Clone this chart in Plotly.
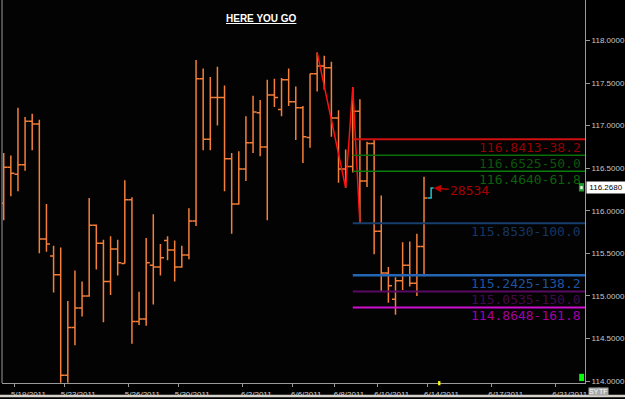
import plotly.graph_objects as go

# ---------------- data ----------------
bar_index = list(range(60))
opens = [116.09, 116.51, 116.43, 116.54, 117.05, 117.02, 115.67, 115.47, 115.25, 114.07,
         114.63, 114.86, 115.00, 115.83, 115.62, 115.17, 115.55, 115.38, 116.13, 114.70,
         114.73, 115.36, 115.34, 115.65, 115.54, 115.34, 115.48, 115.88, 117.55, 116.84,
         117.33, 117.33, 116.61, 116.08, 116.49, 116.80, 117.15, 116.75, 117.36, 117.19,
         117.54, 117.28, 117.21, 116.86, 117.61, 117.70, 117.68, 117.09, 116.49, 116.52,
         117.17, 116.35, 116.79, 115.76, 115.27, 114.96, 115.18, 115.36, 115.15, 115.58]
highs = [116.68, 116.65, 117.21, 117.10, 117.14, 117.07, 116.08, 115.59, 115.57, 114.94,
         115.30, 115.17, 116.15, 115.84, 115.66, 115.70, 115.66, 116.36, 116.16, 115.05,
         115.68, 115.96, 115.61, 115.70, 115.65, 115.59, 116.03, 117.77, 117.67, 117.57,
         117.69, 117.47, 116.68, 116.70, 117.11, 117.35, 117.30, 117.54, 117.55, 117.56,
         117.67, 117.46, 117.23, 117.61, 117.86, 117.82, 117.75, 117.18, 116.72, 117.45,
         117.31, 116.81, 116.83, 116.18, 115.34, 115.22, 115.63, 115.64, 115.73, 116.40]
lows = [115.89, 116.17, 116.23, 116.47, 116.71, 115.50, 115.52, 115.04, 113.98, 113.98,
        114.42, 114.76, 114.99, 115.31, 114.69, 115.01, 115.24, 115.38, 114.44, 114.66,
        114.65, 114.90, 115.24, 115.42, 115.17, 115.33, 115.43, 115.82, 116.71, 116.71,
        117.00, 116.23, 115.73, 116.07, 116.35, 116.68, 116.64, 115.89, 117.22, 117.11,
        117.23, 116.83, 116.56, 116.74, 117.40, 117.42, 116.87, 116.33, 116.27, 116.45,
        115.85, 116.28, 115.49, 115.05, 114.92, 114.78, 115.07, 115.11, 115.00, 115.23]
closes = [116.51, 116.44, 116.54, 117.05, 117.02, 115.67, 115.61, 115.25, 114.07, 114.63,
          114.86, 115.00, 115.83, 115.62, 115.17, 115.55, 115.39, 116.13, 114.70, 114.73,
          115.39, 115.34, 115.45, 115.54, 115.34, 115.48, 115.88, 117.55, 116.84, 117.33,
          117.33, 116.61, 116.08, 116.49, 116.80, 117.16, 116.75, 117.36, 117.33, 117.54,
          117.28, 117.21, 116.87, 117.61, 117.70, 117.68, 117.09, 116.49, 116.52, 117.17,
          116.35, 116.79, 115.76, 115.27, 115.12, 115.18, 115.36, 115.15, 115.58, 116.15]

tick_positions = [1.5, 8.5, 17.5, 24.5, 33.5, 40.5, 46.5, 52.5, 59.5, 68.5, 77.5]
tick_labels = ["5/19/2011", "5/23/2011", "5/26/2011", "5/30/2011", "6/2/2011", "6/6/2011",
               "6/8/2011", "6/10/2011", "6/14/2011", "6/17/2011", "6/21/2011"]
y_ticks = [114.0, 114.5, 115.0, 115.5, 116.0, 116.5, 117.0, 117.5, 118.0]

zigzag_x = [44, 48, 49, 50]
zigzag_y = [117.86, 116.27, 117.45, 115.85]

level_start = 49
level_values = [116.8413, 116.6525, 116.4640, 115.8530, 115.2425, 115.0535, 114.8648]
level_labels = ["116.8413-38.2", "116.6525-50.0", "116.4640-61.8", "115.8530-100.0",
                "115.2425-138.2", "115.0535-150.0", "114.8648-161.8"]
level_line_colors = ["#d01010", "#0a6e0a", "#0a7e0a", "#173f6e", "#2466b4", "#5a0a62", "#d010d0"]
level_text_colors = ["#960000", "#0a560a", "#0a620a", "#153662", "#1c54a0", "#44084c", "#a400a4"]
level_widths = [2, 1.5, 1.5, 2, 2.5, 2, 2]

last_price = 116.268
last_index = 60
arrow_text = "28534"

x_range = [-0.24, 81.6]
y_range = [113.978, 118.475]

# ---------------- figure ----------------
BAR = "#f47f3a"
fig = go.Figure()

fig.add_trace(go.Ohlc(
    x=bar_index, open=opens, high=highs, low=lows, close=closes,
    increasing=dict(line=dict(color=BAR, width=1.5)),
    decreasing=dict(line=dict(color=BAR, width=1.5)),
    tickwidth=0.5, showlegend=False, hoverinfo="skip"))

fig.add_trace(go.Scatter(x=zigzag_x, y=zigzag_y, mode="lines",
                         line=dict(color="#ff1010", width=1.5), showlegend=False,
                         hoverinfo="skip"))

fig.add_trace(go.Scatter(x=[last_index - 0.45, last_index, last_index, last_index + 0.35],
                         y=[closes[-1], closes[-1], last_price, last_price], mode="lines",
                         line=dict(color="#20c0d0", width=1.5), showlegend=False,
                         hoverinfo="skip"))

shapes = []
annotations = []
for v, lab, lc, tc, w in zip(level_values, level_labels, level_line_colors,
                             level_text_colors, level_widths):
    shapes.append(dict(type="line", xref="x", yref="y", x0=level_start, x1=x_range[1],
                       y0=v, y1=v, line=dict(color=lc, width=w)))
    annotations.append(dict(xref="paper", yref="y", x=1, y=v, xanchor="right",
                            yanchor="top", xshift=-2, yshift=1, showarrow=False, text=lab,
                            font=dict(family="DejaVu Sans Mono", size=13, color=tc)))

# title
annotations.append(dict(xref="paper", yref="paper", x=0.445, y=0.97, showarrow=False,
                        text="<b><u>HERE YOU GO</u></b>",
                        font=dict(family="Liberation Sans", size=10, color="#ffffff")))
# arrow + count
annotations.append(dict(xref="x", yref="y", x=last_index + 0.35, y=last_price,
                        ax=36, ay=3, text=arrow_text, showarrow=True, arrowhead=2,
                        arrowsize=1, arrowwidth=1.5, arrowcolor="#c00000",
                        font=dict(family="DejaVu Sans Mono", size=13, color="#a80000")))
# price box
annotations.append(dict(xref="paper", yref="y", x=1, y=last_price, xanchor="left",
                        xshift=1, showarrow=False, text="116.2680", bgcolor="#ffffff",
                        borderpad=1, width=36,
                        font=dict(family="Liberation Sans", size=8, color="#000000")))
# SY / TF buttons
for xp, t in [(1.0250, "SY"), (1.0405, "TF")]:
    annotations.append(dict(xref="paper", yref="paper", x=xp, y=-0.034, yanchor="bottom",
                            showarrow=False, text=t, bgcolor="#a8a8a8", borderpad=0,
                            font=dict(family="Liberation Sans", size=7, color="#ffffff")))

# decorations
shapes += [
    dict(type="line", xref="paper", yref="paper", x0=0, x1=0, y0=0, y1=1,
         line=dict(color="#9a9a9a", width=1)),
    dict(type="rect", xref="paper", yref="paper", x0=0.990, x1=0.9983, y0=0.005, y1=0.024,
         fillcolor="#00ff00", line=dict(width=0)),
    dict(type="rect", xref="paper", yref="paper", x0=0.9895, x1=0.9983, y0=0.500, y1=0.522,
         fillcolor="#1f9a2a", line=dict(width=0)),
    dict(type="rect", xref="paper", yref="paper", x0=0.9920, x1=0.9960, y0=0.506, y1=0.514,
         fillcolor="#ffffff", line=dict(width=0)),
    dict(type="rect", xref="paper", yref="paper", x0=0.748, x1=0.752, y0=-0.006, y1=0.005,
         fillcolor="#ffff00", line=dict(width=0)),
    dict(type="rect", xref="paper", yref="paper", x0=-0.004, x1=1.07, y0=-0.037, y1=-0.031,
         fillcolor="#d6d3cc", line=dict(width=0)),
]

fig.update_layout(
    width=625, height=399,
    margin=dict(l=2, r=39, t=0, b=14),
    paper_bgcolor="#000000", plot_bgcolor="#030303",
    showlegend=False,
    shapes=shapes, annotations=annotations,
    font=dict(family="Liberation Sans", size=8, color="#c8c8c8"),
    xaxis=dict(range=x_range, rangeslider=dict(visible=False), showgrid=False,
               zeroline=False, showline=True, linecolor="#9a9a9a", linewidth=1,
               tickmode="array", tickvals=tick_positions, ticktext=tick_labels,
               ticks="outside", ticklen=3, tickcolor="#9a9a9a",
               tickfont=dict(size=8, color="#d0d0d0"), ticklabelshift=14,
               ticklabelstandoff=0),
    yaxis=dict(range=y_range, side="right", showgrid=False, zeroline=False,
               showline=True, mirror=False, linecolor="#9a9a9a", linewidth=1,
               tickmode="array", tickvals=y_ticks, tickformat=".4f",
               ticks="outside", ticklen=4, tickcolor="#9a9a9a",
               tickfont=dict(size=8, color="#c8c8c8")),
)

fig.write_html("out.html")
